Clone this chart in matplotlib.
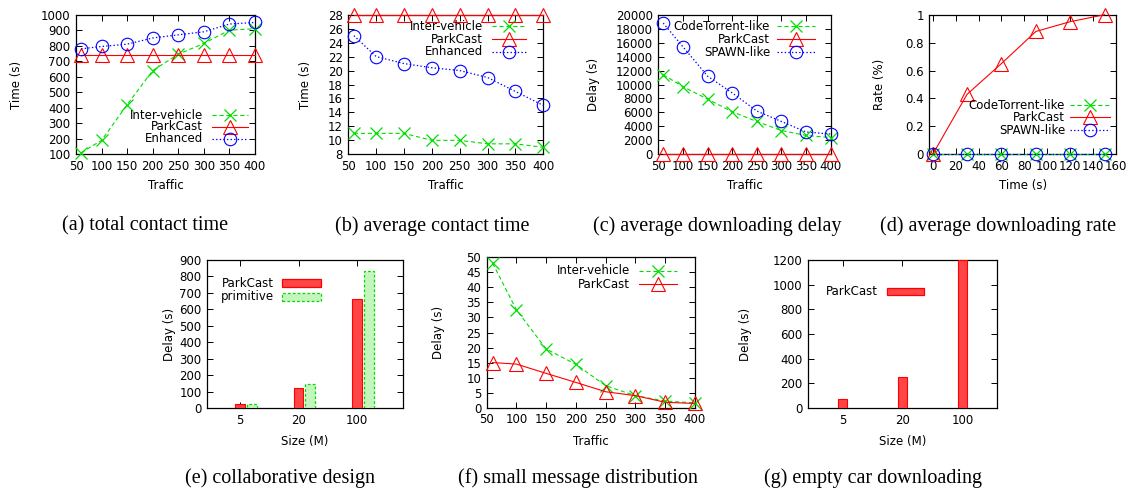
import matplotlib
matplotlib.use("Agg")
import matplotlib.pyplot as plt
from matplotlib.patches import Rectangle
import numpy as np

# ---------------- data ----------------
traffic = [60, 100, 150, 200, 250, 300, 350, 400]

a_inter = [110, 190, 420, 640, 745, 815, 900, 910]
a_park = [740, 740, 740, 740, 740, 740, 740, 740]
a_enh = [780, 795, 810, 850, 870, 890, 940, 950]

b_inter = [11, 11, 11, 10, 10, 9.5, 9.5, 9]
b_park = [28, 28, 28, 28, 28, 28, 28, 28]
b_enh = [25, 22, 21, 20.4, 20, 19, 17, 15]

c_code = [11400, 9700, 7900, 6100, 4700, 3400, 2700, 2400]
c_park = [100, 100, 100, 100, 100, 100, 100, 100]
c_spawn = [18800, 15400, 11200, 8800, 6200, 4700, 3200, 2900]

d_time = [0, 30, 60, 90, 120, 150]
d_code = [0, 0, 0, 0, 0, 0]
d_park = [0, 0.43, 0.65, 0.88, 0.95, 1.0]
d_spawn = [0, 0, 0, 0, 0, 0]

sizes = ['5', '20', '100']
e_park = [25, 120, 660]
e_prim = [22, 145, 835]

f_inter = [48, 32.5, 19.5, 14.4, 7.3, 4.0, 2.2, 1.6]
f_park = [15, 14.5, 11.4, 8.4, 5.3, 4.0, 1.8, 1.4]

g_park = [75, 255, 1200]

captions = ['(a) total contact time', '(b) average contact time',
            '(c) average downloading delay', '(d) average downloading rate',
            '(e) collaborative design', '(f) small message distribution',
            '(g) empty car downloading']

# ---------------- style ----------------
RED = '#ff0000'
GREEN = '#00dd00'
BLUE = '#0000ff'
REDFILL = '#ff4545'
GREENFILL = '#c4f5bc'
FS = 8.5

plt.rcParams['font.family'] = ['DejaVu Sans']
plt.rcParams['font.size'] = FS
plt.rcParams['lines.scale_dashes'] = False
plt.rcParams['axes.linewidth'] = 0.8

W, H = 1140, 492
fig = plt.figure(figsize=(W / 100, H / 100), dpi=100)


def axes_px(l, r, t, b):
    return fig.add_axes([l / W, 1 - b / H, (r - l) / W, (b - t) / H])


STY = {
    'inter': dict(color=GREEN, ls=(0, (3, 2)), marker='x', ms=8.8, mew=0.9, lw=0.8),
    'park': dict(color=RED, ls='-', marker='^', ms=10, mew=0.8, mfc='none', lw=0.8),
    'enh': dict(color=BLUE, ls=(0, (1, 1.6)), marker='o', ms=9, mew=0.8, mfc='none', lw=0.9),
}


def style_axes(ax):
    ax.tick_params(direction='in', top=True, right=True, length=4, width=0.7,
                   labelsize=FS, pad=4)
    for s in ax.spines.values():
        s.set_linewidth(0.9)


def line_legend(ax, entries, xt, xs0, xs1, ys):
    for (lab, key), y in zip(entries, ys):
        st = dict(STY[key])
        ax.text(xt, y, lab, transform=ax.transAxes, ha='right', va='center', fontsize=FS)
        ax.plot([xs0, xs1], [y, y], transform=ax.transAxes, color=st['color'],
                ls=st['ls'], lw=st['lw'], clip_on=False)
        ax.plot([(xs0 + xs1) / 2], [y], transform=ax.transAxes, color=st['color'],
                ls='none', marker=st['marker'], ms=st['ms'], mew=st['mew'],
                mfc=st.get('mfc', st['color']), clip_on=False)


def plot_lines(ax, x, series):
    for y, key in series:
        ax.plot(x, y, clip_on=False, zorder=3, **STY[key])


def set_labels(ax, xl, yl, xly, ylx):
    ax.set_xlabel(xl, fontsize=FS)
    ax.set_ylabel(yl, fontsize=FS)
    ax.xaxis.set_label_coords(0.5, xly)
    ax.yaxis.set_label_coords(ylx, 0.5)
    ax.xaxis.label.set_va('center')
    ax.yaxis.label.set_va('center')


# ---- (a)
ax = axes_px(76, 255, 14.7, 154.3)
style_axes(ax)
plot_lines(ax, traffic, [(a_inter, 'inter'), (a_park, 'park'), (a_enh, 'enh')])
ax.set_xlim(50, 400); ax.set_ylim(100, 1000)
ax.set_xticks(np.arange(50, 401, 50)); ax.set_yticks(np.arange(100, 1001, 100))
set_labels(ax, 'Traffic', 'Time (s)', -0.227, -0.33)
line_legend(ax, [('Inter-vehicle', 'inter'), ('ParkCast', 'park'), ('Enhanced', 'enh')],
            0.709, 0.76, 0.961, [0.2815, 0.1956, 0.1096])

# ---- (b)
ax = axes_px(348.3, 543.3, 14.7, 154.3)
style_axes(ax)
plot_lines(ax, traffic, [(b_inter, 'inter'), (b_park, 'park'), (b_enh, 'enh')])
ax.set_xlim(50, 400); ax.set_ylim(8, 28)
ax.set_xticks(np.arange(50, 401, 50)); ax.set_yticks(np.arange(8, 29, 2))
set_labels(ax, 'Traffic', 'Time (s)', -0.227, -0.222)
line_legend(ax, [('Inter-vehicle', 'inter'), ('ParkCast', 'park'), ('Enhanced', 'enh')],
            0.689, 0.739, 0.910, [0.919, 0.824, 0.735])

# ---- (c)
ax = axes_px(658.3, 830.7, 14.7, 154.3)
style_axes(ax)
plot_lines(ax, traffic, [(c_code, 'inter'), (c_park, 'park'), (c_spawn, 'enh')])
ax.set_xlim(50, 400); ax.set_ylim(0, 20000)
ax.set_xticks(np.arange(50, 401, 50)); ax.set_yticks(np.arange(0, 20001, 2000))
set_labels(ax, 'Traffic', 'Delay (s)', -0.227, -0.377)
line_legend(ax, [('CodeTorrent-like', 'inter'), ('ParkCast', 'park'), ('SPAWN-like', 'enh')],
            0.648, 0.691, 0.909, [0.919, 0.824, 0.731])

# ---- (d)
ax = axes_px(929.3, 1116, 14.7, 154.3)
style_axes(ax)
plot_lines(ax, d_time, [(d_code, 'inter'), (d_park, 'park'), (d_spawn, 'enh')])
ax.set_xlim(-3, 160); ax.set_ylim(0, 1)
ax.set_xticks(np.arange(0, 161, 20)); ax.set_yticks(np.arange(0, 1.01, 0.2))
ax.set_yticklabels(['0', '0.2', '0.4', '0.6', '0.8', '1'])
set_labels(ax, 'Time (s)', 'Rate (%)', -0.227, -0.269)
line_legend(ax, [('CodeTorrent-like', 'inter'), ('ParkCast', 'park'), ('SPAWN-like', 'enh')],
            0.728, 0.755, 0.969, [0.351, 0.265, 0.174])

# ---- (e)
ax = axes_px(207, 403, 260, 408)
style_axes(ax)
pos = np.arange(1, len(sizes) + 1)
ax.bar(pos, e_park, width=0.17, color=REDFILL, edgecolor=RED, lw=0.8, zorder=3)
ax.bar(pos + 0.2, e_prim, width=0.17, color=GREENFILL, edgecolor=GREEN, lw=0.9,
       ls=(0, (2, 1.5)), zorder=3)
ax.set_xlim(0.436, 3.786); ax.set_ylim(0, 900)
ax.set_xticks(pos); ax.set_xticklabels(sizes)
ax.set_yticks(np.arange(0, 901, 100))
set_labels(ax, 'Size (M)', 'Delay (s)', -0.223, -0.189)
for lab, y, fc, ec, ls in [('ParkCast', 0.843, REDFILL, RED, '-'),
                           ('primitive', 0.752, GREENFILL, GREEN, (0, (2, 1.5)))]:
    ax.text(0.342, y, lab, transform=ax.transAxes, ha='right', va='center', fontsize=FS)
    ax.add_patch(Rectangle((0.382, y - 0.026), 0.199, 0.052, transform=ax.transAxes,
                           facecolor=fc, edgecolor=ec, lw=0.9, ls=ls, clip_on=False))

# ---- (f)
ax = axes_px(486.7, 695, 257.3, 407.7)
style_axes(ax)
plot_lines(ax, traffic, [(f_inter, 'inter'), (f_park, 'park')])
ax.set_xlim(50, 400); ax.set_ylim(0, 50)
ax.set_xticks(np.arange(50, 401, 50)); ax.set_yticks(np.arange(0, 51, 5))
set_labels(ax, 'Traffic', 'Delay (s)', -0.223, -0.232)
line_legend(ax, [('Inter-vehicle', 'inter'), ('ParkCast', 'park')],
            0.689, 0.732, 0.915, [0.911, 0.820])

# ---- (g)
ax = axes_px(807.7, 997, 260, 408)
style_axes(ax)
pos = np.arange(1, len(sizes) + 1)
ax.bar(pos, g_park, width=0.159, color=REDFILL, edgecolor=RED, lw=0.8, zorder=3)
ax.set_xlim(0.415, 3.58); ax.set_ylim(0, 1200)
ax.set_xticks(pos); ax.set_xticklabels(sizes)
ax.set_yticks(np.arange(0, 1201, 200))
set_labels(ax, 'Size (M)', 'Delay (s)', -0.223, -0.331)
ax.text(0.373, 0.786, 'ParkCast', transform=ax.transAxes, ha='right', va='center', fontsize=FS)
ax.add_patch(Rectangle((0.417, 0.786 - 0.023), 0.199, 0.046, transform=ax.transAxes,
                       facecolor=REDFILL, edgecolor=RED, lw=0.9, clip_on=False))

# ---- captions
cap_pos = [(145, 226), (432, 226), (717, 226), (998, 226),
           (280, 478), (578, 478), (873, 478)]
for txt, (x, y) in zip(captions, cap_pos):
    fig.text(x / W, 1 - y / H, txt, ha='center', va='center',
             family=['Liberation Serif'], fontsize=14.5)

fig.savefig('out.png', dpi=100)
